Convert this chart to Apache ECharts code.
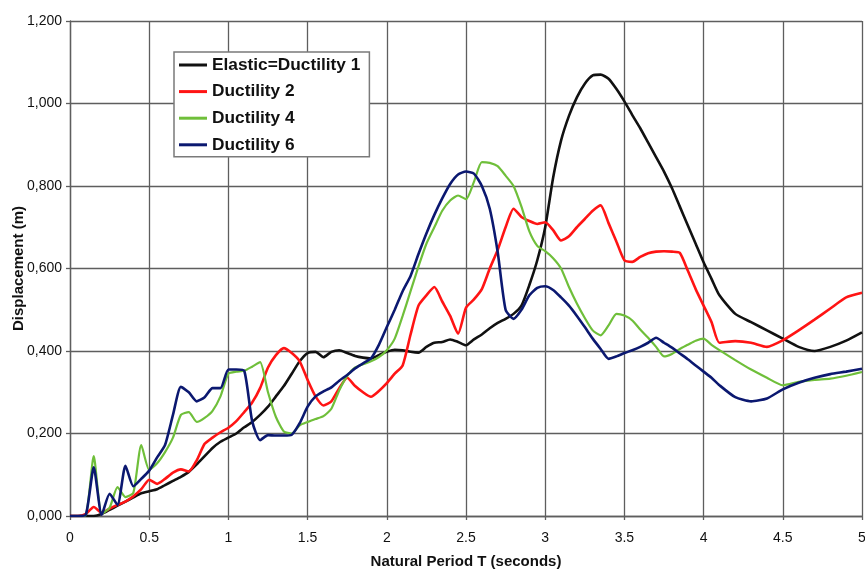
<!DOCTYPE html>
<html>
<head>
<meta charset="utf-8">
<script src="https://cdn.jsdelivr.net/npm/echarts@6/dist/echarts.min.js"></script>
<style>
html,body{margin:0;padding:0;background:#fff;}
#chart{width:865px;height:570px;}
</style>
</head>
<body>
<div id="chart"></div>
<script>
// Natural period T (seconds)
const periods = [
  0,0.05,0.1,0.15,0.2,0.25,0.3,0.35,0.4,0.45,
  0.5,0.55,0.6,0.65,0.7,0.75,0.8,0.85,0.9,0.95,
  1,1.05,1.1,1.15,1.2,1.25,1.3,1.35,1.4,1.45,
  1.5,1.55,1.6,1.65,1.7,1.75,1.8,1.85,1.9,1.95,
  2,2.05,2.1,2.15,2.2,2.25,2.3,2.35,2.4,2.45,
  2.5,2.55,2.6,2.65,2.7,2.75,2.8,2.85,2.9,2.95,
  3,3.05,3.1,3.15,3.2,3.25,3.3,3.35,3.4,3.45,
  3.5,3.55,3.6,3.65,3.7,3.75,3.8,3.85,3.9,3.95,
  4,4.05,4.1,
  4.2,4.3,4.4,4.5,4.6,4.7,4.8,4.9,5
];
const elastic = [
  0,0,0,0,0.005,0.015,0.025,0.035,0.045,0.055,
  0.06,0.065,0.075,0.085,0.095,0.107,0.125,0.145,0.165,0.18,
  0.19,0.2,0.215,0.228,0.245,0.265,0.29,0.315,0.345,0.375,
  0.395,0.398,0.385,0.398,0.402,0.395,0.388,0.384,0.382,0.39,
  0.398,0.403,0.402,0.398,0.396,0.41,0.42,0.422,0.428,0.422,
  0.414,0.428,0.44,0.455,0.468,0.478,0.49,0.51,0.56,0.62,
  0.70,0.82,0.91,0.97,1.015,1.048,1.068,1.07,1.06,1.035,
  1.005,0.972,0.94,0.905,0.87,0.835,0.795,0.75,0.705,0.66,
  0.615,0.575,0.535,
  0.49,0.47,0.45,0.43,0.41,0.40,0.41,0.425,0.445
];
const ductility2 = [
  0,0,0.005,0.022,0.008,0.018,0.027,0.035,0.048,0.065,
  0.088,0.078,0.09,0.105,0.113,0.108,0.135,0.175,0.19,0.203,
  0.214,0.23,0.252,0.275,0.31,0.36,0.39,0.407,0.395,0.375,
  0.33,0.29,0.268,0.278,0.31,0.335,0.315,0.3,0.289,0.303,
  0.322,0.345,0.365,0.44,0.51,0.535,0.555,0.52,0.485,0.442,
  0.505,0.525,0.55,0.6,0.645,0.70,0.745,0.725,0.715,0.708,
  0.712,0.693,0.668,0.678,0.70,0.72,0.74,0.753,0.71,0.665,
  0.62,0.616,0.628,0.637,0.641,0.642,0.641,0.638,0.595,0.55,
  0.51,0.47,0.42,
  0.424,0.42,0.41,0.426,0.45,0.476,0.503,0.53,0.541
];
const ductility4 = [
  0,0,0.002,0.145,0.005,0.02,0.07,0.046,0.056,0.172,
  0.112,0.128,0.155,0.19,0.245,0.252,0.228,0.238,0.255,0.29,
  0.345,0.35,0.352,0.362,0.373,0.3,0.24,0.205,0.2,0.22,
  0.228,0.235,0.242,0.26,0.305,0.34,0.36,0.368,0.375,0.385,
  0.402,0.43,0.485,0.545,0.605,0.66,0.70,0.74,0.765,0.777,
  0.768,0.81,0.858,0.856,0.848,0.825,0.80,0.75,0.69,0.655,
  0.642,0.625,0.60,0.555,0.515,0.48,0.45,0.438,0.462,0.49,
  0.486,0.474,0.452,0.432,0.41,0.387,0.393,0.405,0.415,0.425,
  0.43,0.415,0.402,
  0.378,0.355,0.335,0.317,0.325,0.33,0.333,0.34,0.349
];
const ductility6 = [
  0,0,0.003,0.118,0.003,0.054,0.027,0.122,0.072,0.09,
  0.11,0.142,0.172,0.245,0.313,0.3,0.278,0.288,0.31,0.31,
  0.355,0.355,0.352,0.23,0.184,0.196,0.195,0.195,0.197,0.225,
  0.265,0.29,0.302,0.312,0.328,0.342,0.358,0.37,0.382,0.415,
  0.458,0.5,0.545,0.582,0.635,0.685,0.73,0.77,0.805,0.828,
  0.835,0.83,0.8,0.745,0.64,0.5,0.478,0.5,0.535,0.553,
  0.557,0.548,0.53,0.51,0.485,0.458,0.43,0.405,0.381,0.387,
  0.395,0.402,0.41,0.42,0.432,0.42,0.408,0.394,0.38,0.365,
  0.35,0.335,0.317,
  0.288,0.278,0.285,0.307,0.323,0.335,0.344,0.35,0.357
];
const seriesNames = ['Elastic=Ductility 1','Ductility 2','Ductility 4','Ductility 6'];
const seriesColors = ['#111111','#ff1414','#6fbf3a','#0b1870'];
const seriesValues = [elastic, ductility2, ductility4, ductility6];

const chart = echarts.init(document.getElementById('chart'), null, {renderer:'canvas'});
const gridLine = {color:'#5e5e5e', width:1.3};
chart.setOption({
  animation:false,
  backgroundColor:'#ffffff',
  textStyle:{fontFamily:'"Liberation Sans", Arial, sans-serif'},
  grid:{left:70, right:3, top:21, bottom:54, containLabel:false, outerBoundsMode:'none'},
  legend:{
    orient:'vertical', left:174, top:52,
    padding:[4,9,3,5], itemGap:8.6,
    itemWidth:28, itemHeight:3, icon:'rect',
    backgroundColor:'#ffffff', borderColor:'#7a7a7a', borderWidth:1.5,
    textStyle:{fontSize:17.3, fontWeight:'bold', color:'#111', lineHeight:18, fontFamily:'"Liberation Sans", Arial, sans-serif'},
    data:seriesNames
  },
  xAxis:{
    type:'value', min:0, max:5, interval:0.5,
    name:'Natural Period T (seconds)', nameLocation:'middle', nameGap:38, nameMoveOverlap:false,
    nameTextStyle:{fontSize:15, fontWeight:'bold', color:'#111'},
    axisLine:{show:true, lineStyle:gridLine},
    axisTick:{show:true, length:4, lineStyle:gridLine},
    splitLine:{show:true, lineStyle:gridLine},
    axisLabel:{fontSize:14, color:'#111', margin:15, formatter:v => String(v)}
  },
  yAxis:{
    type:'value', min:0, max:1.2, interval:0.2,
    name:'Displacement (m)', nameLocation:'middle', nameGap:44, nameRotate:90, nameMoveOverlap:false,
    nameTextStyle:{fontSize:15, fontWeight:'bold', color:'#111'},
    axisLine:{show:true, lineStyle:gridLine},
    axisTick:{show:true, length:4, lineStyle:gridLine},
    splitLine:{show:true, lineStyle:gridLine},
    axisLabel:{fontSize:14, color:'#111', margin:8, formatter:v => v.toFixed(3).replace('.', ',')}
  },
  series:seriesNames.map((name,k)=>({
    name:name, type:'line', showSymbol:false, smooth:0.2,
    color:seriesColors[k],
    lineStyle:{width:k===2?2.2:2.6, color:seriesColors[k]},
    data:periods.map((t,i)=>[t, seriesValues[k][i]])
  }))
});
</script>
</body>
</html>
